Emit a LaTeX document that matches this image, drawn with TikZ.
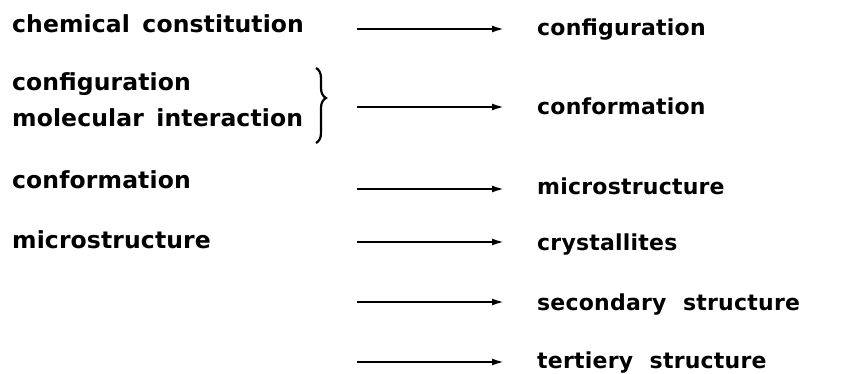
\documentclass[tikz,border=0pt]{standalone}
\usepackage{fontspec}
\newfontfamily\leftfont{DejaVu Sans}[LetterSpace=0.5,WordSpace=1.5]
\newfontfamily\rightfont{DejaVu Sans}[LetterSpace=1,WordSpace=2.1]
\usetikzlibrary{arrows.meta,decorations.pathreplacing}
\begin{document}
\begin{tikzpicture}[x=1pt,y=-1pt,
  llbl/.style={anchor=base west,inner sep=0pt,font=\leftfont\fontsize{23.5}{27}\selectfont\bfseries},
  rlbl/.style={anchor=base west,inner sep=0pt,font=\rightfont\fontsize{22}{26}\selectfont\bfseries},
  arr/.style={line width=2pt,-{Latex[length=12pt,width=7pt]}}]
\useasboundingbox (0,0) rectangle (859,374);
% left column
\node[llbl] (l1) at (12,33) {chemical constitution};
\node[llbl] (l2a) at (12,91) {configuration};
\node[llbl] (l2b) at (12,127) {molecular interaction};
\node[llbl] (l3) at (12,189) {conformation};
\node[llbl] (l4) at (12,248) {microstructure};
% right column
\node[rlbl] (r1) at (537,36) {configuration};
\node[rlbl] (r2) at (537,115) {conformation};
\node[rlbl] (r3) at (537,195) {microstructure};
\node[rlbl] (r4) at (537,251) {crystallites};
\node[rlbl] (r5) at (537,310) {secondary structure};
\node[rlbl] (r6) at (537,368) {tertiery structure};
% arrows
\foreach \i/\y in {1/29,2/107,3/189,4/242,5/302,6/362}{
  \coordinate (s\i) at (357,\y);
  \coordinate (e\i) at (504,\y);
  \draw[arr] (s\i) -- (e\i);
}
% brace
\coordinate (bt) at (316,68);
\coordinate (bb) at (316,143);
\draw[line width=2.2pt,decorate,decoration={brace,amplitude=10pt,aspect=0.4}] (bt) -- (bb);
\end{tikzpicture}
\end{document}
